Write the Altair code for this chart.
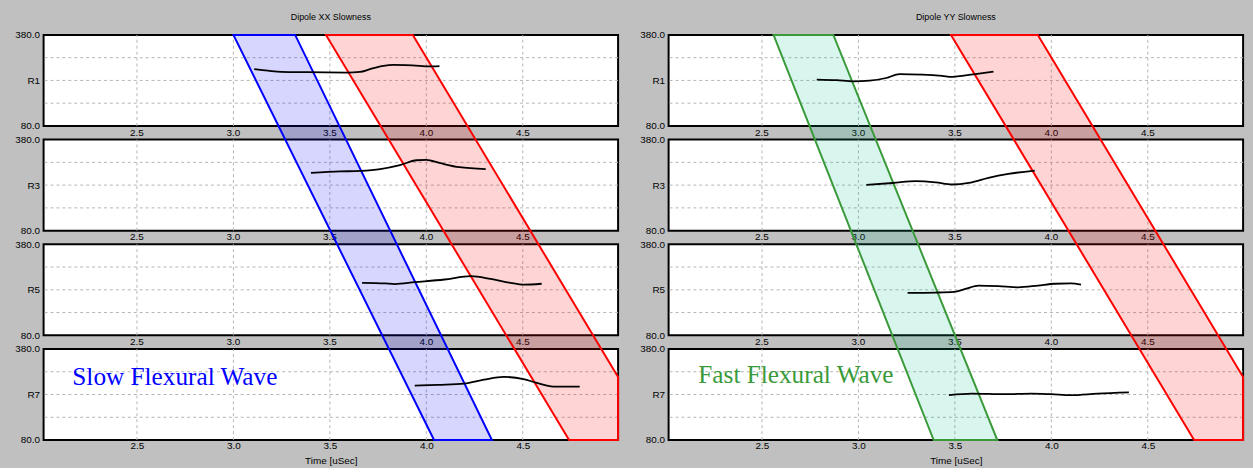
import altair as alt
import pandas as pd

# ---------------- data ----------------
receivers = ["R1", "R3", "R5", "R7"]
s_min, s_max = 80.0, 380.0
x_ticks = [2.5, 3.0, 3.5, 4.0, 4.5]
t_min, t_max = 2.016, 4.994

# Dipole XX slowness curves (time [uSec], slowness)
xx_R1_t = [3.108, 3.179, 3.248, 3.385, 3.590, 3.656, 3.708, 3.778, 3.829, 3.964, 4.009, 4.068]
xx_R1_s = [267, 262, 258, 257, 256, 258, 267, 278, 281, 278, 276, 277]
xx_R3_t = [3.402, 3.555, 3.658, 3.761, 3.863, 3.949, 4.000, 4.068, 4.171, 4.308]
xx_R3_s = [270, 275, 277, 283, 296, 312, 313, 303, 289, 283]
xx_R5_t = [3.667, 3.786, 3.837, 3.940, 4.094, 4.231, 4.333, 4.436, 4.504, 4.598]
xx_R5_s = [253, 251, 249, 255, 264, 275, 266, 253, 247, 250]
xx_R7_t = [3.940, 4.060, 4.196, 4.299, 4.402, 4.504, 4.573, 4.658, 4.795]
xx_R7_s = [259, 262, 266, 279, 288, 281, 268, 256, 256]

# Dipole YY slowness curves
yy_R1_t = [2.784, 2.887, 2.972, 3.058, 3.144, 3.213, 3.332, 3.434, 3.486, 3.537, 3.606, 3.700]
yy_R1_s = [233, 231, 227, 229, 238, 251, 249, 245, 242, 245, 251, 259]
yy_R3_t = [3.041, 3.178, 3.298, 3.401, 3.486, 3.572, 3.674, 3.777, 3.914]
yy_R3_s = [231, 237, 243, 239, 232, 237, 254, 267, 278]
yy_R5_t = [3.255, 3.401, 3.495, 3.555, 3.623, 3.726, 3.828, 3.931, 4.017, 4.102, 4.154]
yy_R5_s = [220, 221, 223, 233, 244, 242, 238, 244, 250, 251, 247]
yy_R7_t = [3.469, 3.589, 3.760, 3.897, 4.000, 4.102, 4.239, 4.402]
yy_R7_s = [228, 233, 231, 233, 231, 228, 233, 237]

# Band windows: times at the top of R1 and the bottom of R7 (left, right)
slow_band_top = [3.00, 3.32]
slow_band_bottom = [4.04, 4.34]
fast_band_top = [2.56, 2.87]
fast_band_bottom = [3.39, 3.72]
red_band_top = [3.48, 3.93]
red_band_bottom = [4.74, 5.19]

# ---------------- layout constants ----------------
GAP = 45.0                      # gap between stacked sub-plots (slowness units)
STEP = (s_max - s_min) + GAP
V_TOP = 3 * STEP + (s_max - s_min)
PLOT_W = 580
PLOT_H = 409
FONT = "Liberation Sans"

x_scale = alt.Scale(domain=[t_min, t_max], nice=False, zero=False)
y_scale = alt.Scale(domain=[0, V_TOP], nice=False, zero=False)

x_axis = alt.Axis(values=x_ticks, format=".1f", ticks=False, domain=False, grid=False,
                  labelFont=FONT, labelFontSize=10, labelColor="black", labelPadding=1,
                  title="Time [uSec]", titleFont=FONT, titleFontSize=10,
                  titleFontWeight="normal", titleColor="black", titlePadding=5)

y_vals, label_map = [], {}
for i, r in enumerate(receivers):
    base = (3 - i) * STEP
    y_vals += [base, base + 150, base + 300]
    label_map[base] = "80.0"
    label_map[base + 150] = r
    label_map[base + 300] = "380.0"
expr = "''"
for val, lab in label_map.items():
    expr = f"datum.value == {val} ? '{lab}' : ({expr})"
y_axis = alt.Axis(values=y_vals, labelExpr=expr, ticks=False, domain=False, grid=False,
                  labelFont=FONT, labelFontSize=10, labelColor="black", labelPadding=4,
                  title=None)


def X(field):
    return alt.X(field, type="quantitative", scale=x_scale, axis=x_axis)


def Y(field):
    return alt.Y(field, type="quantitative", scale=y_scale, axis=y_axis)


def band_polygon(top, bottom):
    tl, tr = top
    bl, br = bottom
    if br <= t_max:
        return pd.DataFrame({"v": [V_TOP, 0.0], "left": [tl, bl], "right": [tr, br]})
    v_c = V_TOP * (t_max - br) / (tr - br)
    l_c = bl + (tl - bl) * v_c / V_TOP
    return pd.DataFrame({"v": [V_TOP, v_c, 0.0], "left": [tl, l_c, bl],
                         "right": [tr, t_max, t_max]})


def make_panel(title, curves, bands, label, label_color, label_t, label_s):
    frames = pd.DataFrame({"rec": receivers,
                           "vb": [(3 - i) * STEP for i in range(4)],
                           "vt": [(3 - i) * STEP + (s_max - s_min) for i in range(4)]})
    hgrid = pd.DataFrame({"v": [(3 - i) * STEP + f for i in range(4) for f in (75, 150, 225)]})
    vgrid = pd.DataFrame([{"t": t, "vb": (3 - i) * STEP, "vt": (3 - i) * STEP + 300}
                          for i in range(4) for t in x_ticks])
    glab = pd.DataFrame([{"t": t, "v": (3 - i) * STEP - GAP / 2, "txt": f"{t:.1f}"}
                         for i in range(3) for t in x_ticks])
    rows = []
    for i, r in enumerate(receivers):
        ts, ss = curves[r]
        for k, (t, s) in enumerate(zip(ts, ss)):
            rows.append({"rec": r, "k": k, "t": t, "v": (3 - i) * STEP + (s - s_min)})
    cdf = pd.DataFrame(rows)

    layers = [
        alt.Chart(frames).mark_rect(fill="white", stroke="black", strokeWidth=2).encode(
            y=Y("vb"), y2="vt"),
        alt.Chart(hgrid).mark_rule(color="#b4b4b4", strokeDash=[3, 3], strokeWidth=1).encode(
            y=Y("v")),
        alt.Chart(vgrid).mark_rule(color="#b4b4b4", strokeDash=[3, 3], strokeWidth=1).encode(
            x=X("t"), y=Y("vb"), y2="vt"),
        alt.Chart(glab).mark_text(font=FONT, fontSize=10, color="black", baseline="middle").encode(
            x=X("t"), y=Y("v"), text="txt:N"),
    ]
    for (top, bottom, col, fillcol, op) in bands:
        layers.append(
            alt.Chart(band_polygon(top, bottom)).mark_area(
                orient="horizontal", fill=fillcol, fillOpacity=op, stroke=col, strokeWidth=2
            ).encode(y=Y("v"), x=X("left"), x2="right")
        )
    layers.append(
        alt.Chart(cdf).mark_line(color="black", strokeWidth=1.8, interpolate="monotone").encode(
            x=X("t"), y=Y("v"), detail="rec:N", order="k:Q")
    )
    ann = pd.DataFrame({"t": [label_t], "v": [label_s - s_min], "txt": [label]})
    layers.append(
        alt.Chart(ann).mark_text(font="Liberation Serif", fontSize=25.5, color=label_color,
                                 align="left", baseline="alphabetic").encode(
            x=X("t"), y=Y("v"), text="txt:N")
    )
    return alt.layer(*layers).properties(
        width=PLOT_W, height=PLOT_H,
        title=alt.TitleParams(title, font=FONT, fontSize=9, fontWeight="normal",
                              color="black", offset=8, anchor="middle"))


xx_curves = {"R1": (xx_R1_t, xx_R1_s), "R3": (xx_R3_t, xx_R3_s),
             "R5": (xx_R5_t, xx_R5_s), "R7": (xx_R7_t, xx_R7_s)}
yy_curves = {"R1": (yy_R1_t, yy_R1_s), "R3": (yy_R3_t, yy_R3_s),
             "R5": (yy_R5_t, yy_R5_s), "R7": (yy_R7_t, yy_R7_s)}

left = make_panel("Dipole XX Slowness", xx_curves,
                  [(slow_band_top, slow_band_bottom, "#0000ff", "#0000ff", 0.16),
                   (red_band_top, red_band_bottom, "#ff0000", "#ff0000", 0.17)],
                  "Slow Flexural Wave", "#0000ff", 2.165, 261)
right = make_panel("Dipole YY Slowness", yy_curves,
                   [(fast_band_top, fast_band_bottom, "#3a9a3a", "#00c08a", 0.15),
                    (red_band_top, red_band_bottom, "#ff0000", "#ff0000", 0.17)],
                   "Fast Flexural Wave", "#3a9a3a", 2.17, 268)

chart = alt.hconcat(left, right, spacing=17).properties(
    padding={"left": 14, "top": 11, "right": 6, "bottom": 0},
    background="#c0c0c0",
).configure_view(stroke=None, fill="#c0c0c0")

chart.save("out.html", embed_options={"renderer": "svg", "actions": False})
